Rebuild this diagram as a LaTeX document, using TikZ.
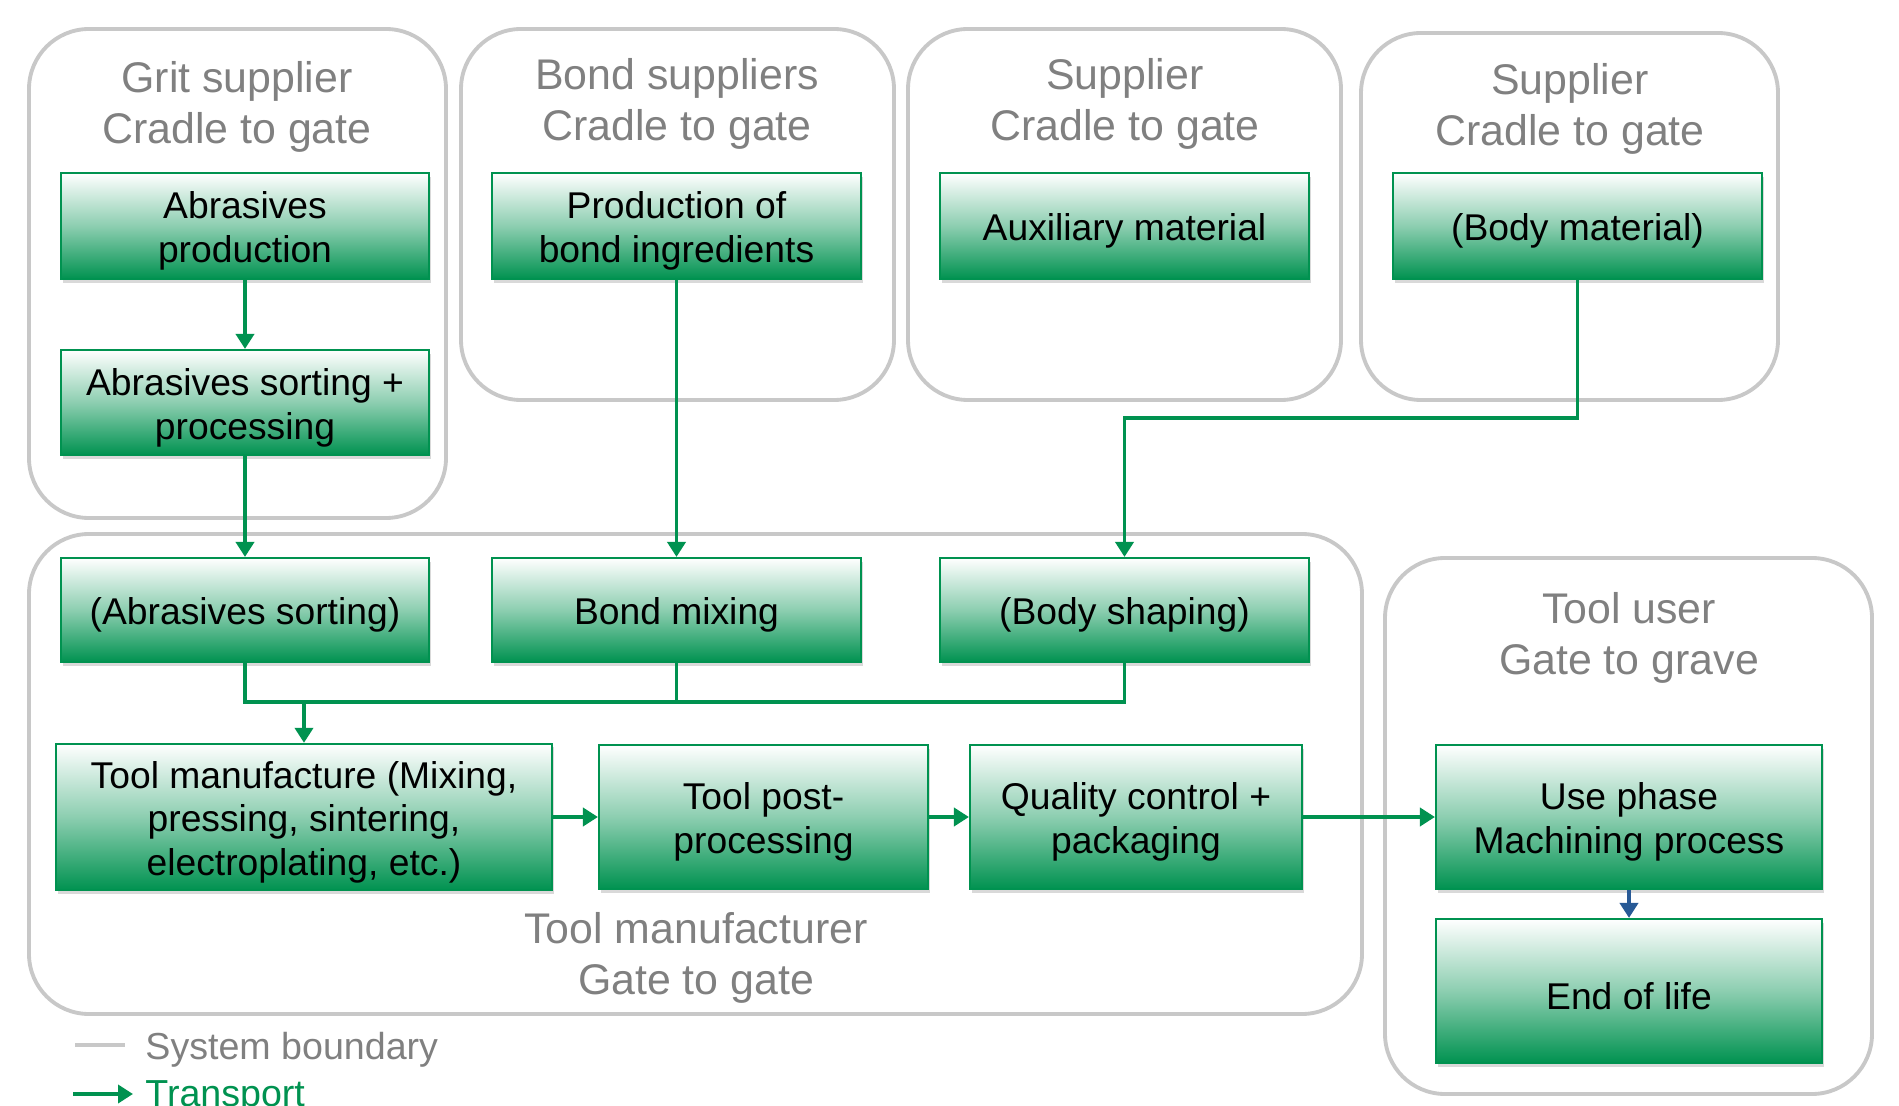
\documentclass[tikz,border=0pt]{standalone}
\usepackage{fontspec}
\setmainfont{Liberation Sans}
\usetikzlibrary{arrows.meta,shadows}

\definecolor{boxgreen}{RGB}{0,146,80}
\definecolor{linegray}{RGB}{200,200,200}
\definecolor{textgray}{RGB}{128,128,128}
\definecolor{eolblue}{RGB}{40,90,150}

\newcommand{\boxlift}{\rule{0pt}{10.6pt}}

\tikzset{
  stage/.style={draw=boxgreen, line width=0.6pt, top color=white, bottom color=boxgreen,
    middle color=boxgreen!45, align=center, inner sep=2pt,
    font=\fontsize{10.6}{12.4}\selectfont,
    drop shadow={shadow xshift=0.6pt, shadow yshift=-1pt, opacity=0.3}},
  boundary/.style={draw=linegray, line width=1.1pt, rounded corners=0.6cm},
  title/.style={text=textgray, align=center, font=\fontsize{12.2}{14.5}\selectfont},
  transport/.style={draw=boxgreen, line width=1.1pt, -{Triangle[length=1.5mm,width=1.8mm]}}
}

\begin{document}
\begin{tikzpicture}

\useasboundingbox (0,0) rectangle (18.99,-11.06);

\draw[boundary] (0.29,-0.29) rectangle (4.46,-5.18);
\draw[boundary] (4.61,-0.29) rectangle (8.94,-4.00);
\draw[boundary] (9.08,-0.29) rectangle (13.41,-4.00);
\draw[boundary] (13.61,-0.33) rectangle (17.78,-4.00);
\draw[boundary] (0.29,-5.34) rectangle (13.62,-10.14);
\draw[boundary] (13.85,-5.58) rectangle (18.72,-10.94);

\node[title] (gritT) at (2.37,-1.07) {Grit supplier\\Cradle to gate};
\node[title] (bondT) at (6.77,-1.04) {Bond suppliers\\Cradle to gate};
\node[title] (auxT) at (11.25,-1.04) {Supplier\\Cradle to gate};
\node[title] (bodyT) at (15.70,-1.09) {Supplier\\Cradle to gate};
\node[title] (userT) at (16.29,-6.38) {Tool user\\Gate to grave};
\node[title] (manuT) at (6.96,-9.58) {Tool manufacturer\\Gate to gate};

\node[stage, minimum width=3.68cm, minimum height=1.06cm] (abrprod) at (2.45,-2.26) {\boxlift Abrasives\\production};
\node[stage, minimum width=3.68cm, minimum height=1.05cm] (abrsort) at (2.45,-4.025) {\boxlift Abrasives sorting +\\processing};
\node[stage, minimum width=3.69cm, minimum height=1.06cm] (bondprod) at (6.765,-2.26) {\boxlift Production of\\bond ingredients};
\node[stage, minimum width=3.69cm, minimum height=1.06cm] (aux) at (11.245,-2.26) {\boxlift Auxiliary material};
\node[stage, minimum width=3.69cm, minimum height=1.06cm] (bodymat) at (15.775,-2.26) {\boxlift (Body material)};

\node[stage, minimum width=3.68cm, minimum height=1.04cm] (abrsort2) at (2.45,-6.10) {\boxlift (Abrasives sorting)};
\node[stage, minimum width=3.69cm, minimum height=1.04cm] (bondmix) at (6.765,-6.10) {\boxlift Bond mixing};
\node[stage, minimum width=3.69cm, minimum height=1.04cm] (bodyshape) at (11.245,-6.10) {\boxlift (Body shaping)};

\node[stage, minimum width=4.96cm, minimum height=1.44cm] (manu) at (3.04,-8.17) {\boxlift Tool manufacture (Mixing,\\pressing, sintering,\\electroplating, etc.)};
\node[stage, minimum width=3.29cm, minimum height=1.44cm] (post) at (7.635,-8.17) {\boxlift Tool post-\\processing};
\node[stage, minimum width=3.32cm, minimum height=1.44cm] (qc) at (11.36,-8.17) {\boxlift Quality control +\\packaging};
\node[stage, minimum width=3.86cm, minimum height=1.44cm] (use) at (16.29,-8.17) {\boxlift Use phase\\Machining process};
\node[stage, minimum width=3.86cm, minimum height=1.44cm] (eol) at (16.29,-9.91) {\boxlift End of life};

\draw[transport] (abrprod) -- (abrsort);
\draw[transport] (abrsort) -- (abrsort2);
\draw[transport] (bondprod) -- (bondmix);
\draw[transport] (bodymat.south) |- (11.245,-4.18) -- (bodyshape.north);

\coordinate (merge) at (3.04,-7.02);
\draw[draw=boxgreen, line width=1.1pt] (abrsort2.south) |- (bodyshape.south |- merge) -- (bodyshape.south);
\draw[draw=boxgreen, line width=1.1pt] (bondmix.south) -- (bondmix.south |- merge);
\draw[transport] (merge) -- (manu.north);

\draw[transport] (manu) -- (post);
\draw[transport] (post) -- (qc);
\draw[transport] (qc) -- (use);
\draw[transport, draw=eolblue] (use) -- (eol);

\draw[draw=linegray, line width=1.1pt] (0.75,-10.45) -- (1.25,-10.45);
\node[anchor=west, text=textgray, font=\fontsize{10.7}{13}\selectfont] (legb) at (1.33,-10.50) {System boundary};
\draw[transport] (0.73,-10.94) -- (1.33,-10.94);
\node[anchor=west, text=boxgreen, font=\fontsize{10.7}{13}\selectfont] (legt) at (1.33,-10.97) {Transport};

\end{tikzpicture}
\end{document}
